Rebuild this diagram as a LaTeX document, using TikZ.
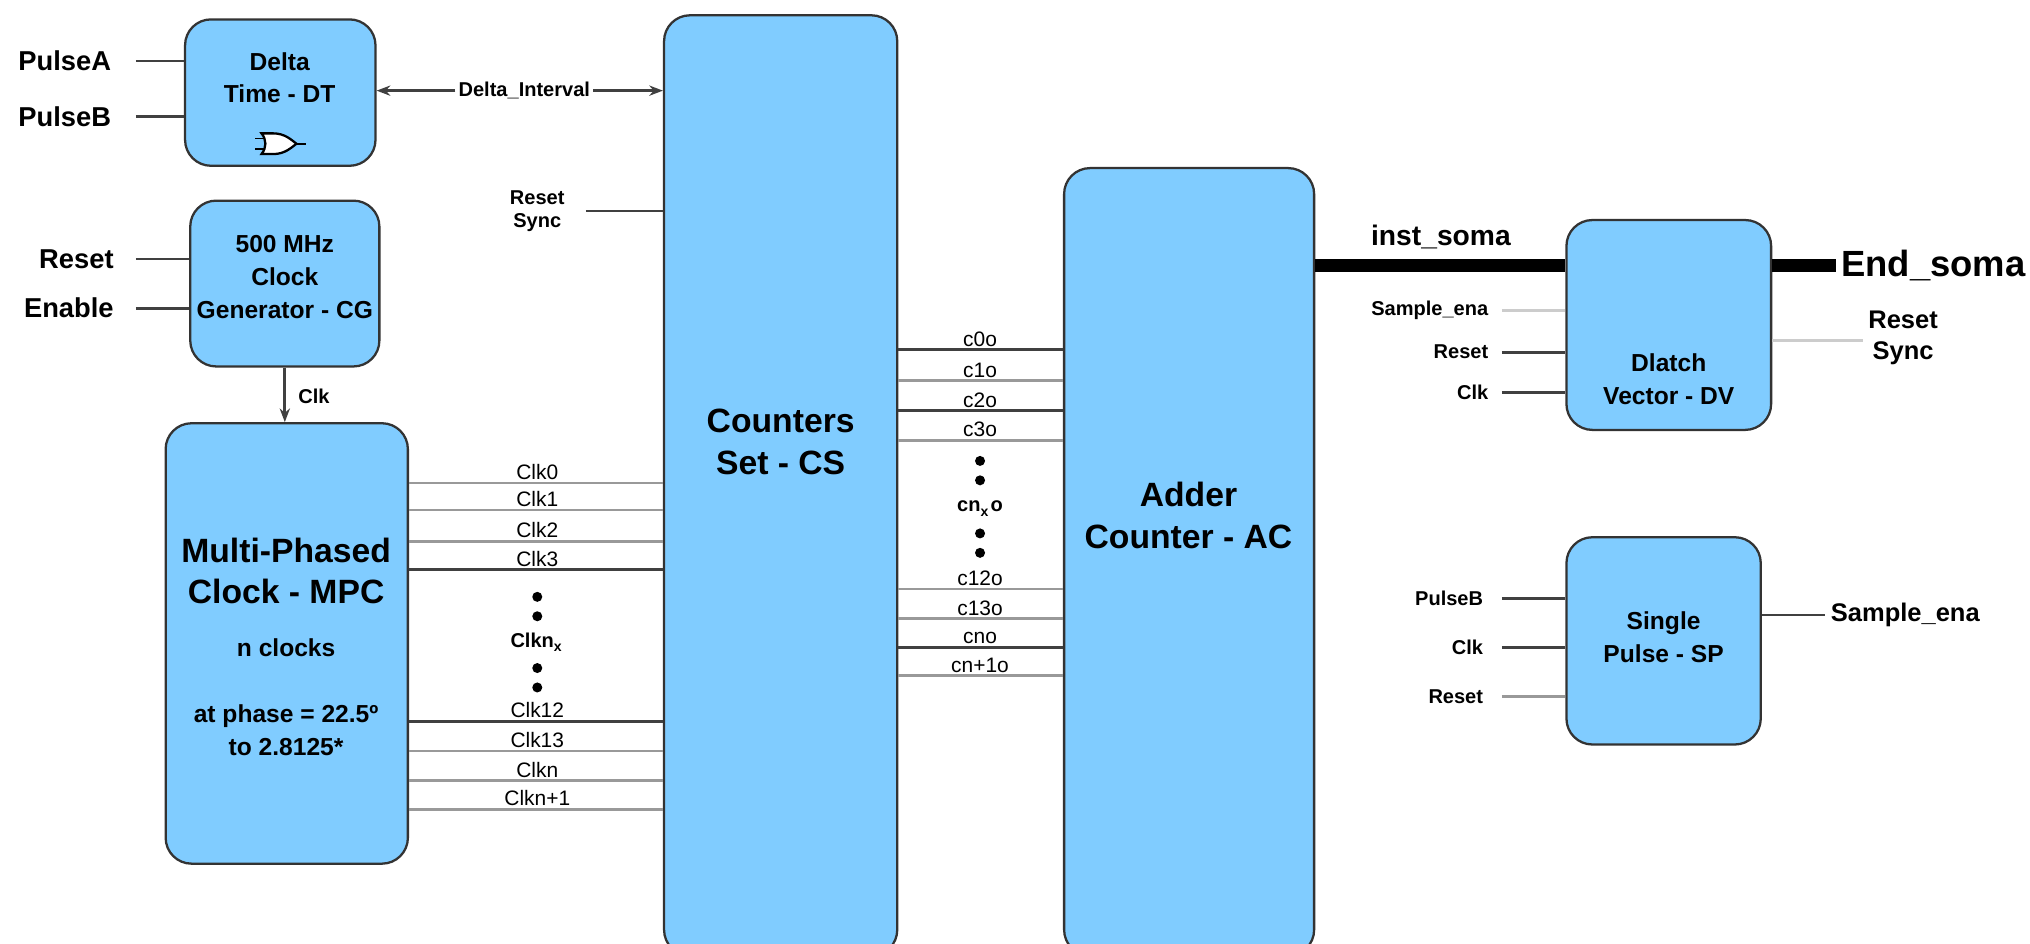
\documentclass[tikz,border=0pt]{standalone}
\usepackage{fontspec}
\setmainfont{Liberation Sans}
\usetikzlibrary{arrows.meta}
\begin{document}
\begin{tikzpicture}[x=0.01cm,y=-0.01cm,
 box/.style={draw=black!80,line width=0.5pt,fill=boxblue,rounded corners=0.2cm,inner sep=0pt},
 tb/.style={font=\bfseries\fontsize{7.4}{9.2}\selectfont,align=center},
 ts/.style={font=\bfseries\fontsize{5.4}{7.2}\selectfont,align=center},
 lab/.style={font=\bfseries\fontsize{6}{7}\selectfont,inner sep=1pt},
 sl/.style={font=\fontsize{4.6}{5.5}\selectfont,inner sep=0.5pt},
 sb/.style={font=\bfseries\fontsize{4.4}{5.2}\selectfont,inner sep=0.5pt},
 wire/.style={line width=0.6pt,draw=black!75},
 gw/.style={line width=0.6pt,draw=black!40},
 lw/.style={line width=0.6pt,draw=black!20},
 dotn/.style={circle,fill=black,inner sep=0pt,minimum size=2.2pt}]
\definecolor{boxblue}{HTML}{80CCFF}
\useasboundingbox (0,0) rectangle (1568,729);
% boxes
\node[box,minimum width=1.47cm,minimum height=1.13cm] (DT) at (216.5,71.5) {};
\node[box,minimum width=1.46cm,minimum height=1.28cm] (CG) at (220,219) {};
\node[box,minimum width=1.87cm,minimum height=3.40cm] (MPC) at (221.5,497) {};
\node[box,minimum width=1.80cm,minimum height=7.26cm] (CS) at (603,375) {};
\node[box,minimum width=1.93cm,minimum height=6.08cm] (AC) at (918.5,434) {};
\node[box,minimum width=1.58cm,minimum height=1.62cm] (DV) at (1289,251) {};
\node[box,minimum width=1.50cm,minimum height=1.60cm] (SP) at (1285,495) {};
% box titles
\node[ts] (tdt) at (216,60) {Delta\\Time - DT};
\draw[line width=0.5pt,fill=white] (202,103) -- (211,103) .. controls (220,103) and (225,108) .. (229,111) .. controls (225,114) and (220,119) .. (211,119) -- (202,119) .. controls (206,114) and (206,108) .. (202,103) -- cycle;
\draw[line width=0.4pt] (229,111) -- (236,111) (197,107) -- (205,107) (197,115) -- (205,115);
\node[ts] (tcg) at (220,214) {500 MHz\\Clock\\Generator - CG};
\node[tb] (tmpc) at (221,441) {Multi-Phased\\Clock - MPC};
\node[ts] (tn) at (221,500) {n clocks};
\node[ts] (tph) at (221,564) {at phase = 22.5º\\to 2.8125*};
\node[tb] (tcs) at (603,341) {Counters\\Set - CS};
\node[tb] (tac) at (918,398) {Adder\\Counter - AC};
\node[ts] (tdv) at (1289,293) {Dlatch\\Vector - DV};
\node[ts] (tsp) at (1285,492) {Single\\Pulse - SP};
% DT inputs
\node[lab,anchor=east] (pa) at (90,47) {PulseA};
\node[lab,anchor=east] (pb) at (90,90) {PulseB};
\draw[wire] (pa.east) ++(15,0) coordinate (pa1) -- (pa1 -| DT.west);
\draw[wire] (pb.east) ++(15,0) coordinate (pb1) -- (pb1 -| DT.west);
% Delta interval
\node[sb] (di) at (405,70) {Delta\_Interval};
\draw[wire,-{Stealth[length=3pt]}] (di.west) -- (di.west -| DT.east);
\draw[wire,-{Stealth[length=3pt]}] (di.east) -- (di.east -| CS.west);
% Reset Sync CS
\node[sb,align=center] (rs) at (415,163) {Reset\\Sync};
\draw[wire] (rs.east) ++(14,0) coordinate (rs1) -- (rs1 -| CS.west);
% CG inputs
\node[lab,anchor=east] (rst) at (92,200) {Reset};
\node[lab,anchor=east] (en) at (92,238) {Enable};
\draw[wire] (rst.east) ++(13,0) coordinate (r1) -- (r1 -| CG.west);
\draw[wire] (en.east) ++(13,0) coordinate (e1) -- (e1 -| CG.west);
% Clk
\draw[wire,-{Stealth[length=3pt]}] (CG.south) -- (CG.south |- MPC.north);
\node[sb,anchor=west] (clk) at (228,306) {Clk};
% MPC -> CS
\foreach \y/\t/\s in {373/Clk0/gw,394/Clk1/gw,418/Clk2/gw,440/Clk3/wire,557/Clk12/wire,580/Clk13/gw,603/Clkn/gw,625/Clkn+1/gw}{
  \coordinate (m\y) at (MPC.east |- 0,\y);
  \draw[\s] (m\y) -- (m\y -| CS.west);
  \node[sl,anchor=south] (lm\y) at (415,\y) {\t};
}
\node[dotn] (d1) at (415,461) {};
\node[dotn] (d2) at (415,476) {};
\node[sb] (cx) at (415,496) {Clkn$_{\mathbf{x}}$};
\node[dotn] (d3) at (415,516) {};
\node[dotn] (d4) at (415,531) {};
% CS -> AC
\foreach \y/\t/\s in {270/c0o/wire,294/c1o/gw,317/c2o/wire,340/c3o/gw,455/c12o/gw,478/c13o/gw,500/cno/wire,522/cn+1o/gw}{
  \coordinate (c\y) at (CS.east |- 0,\y);
  \draw[\s] (c\y) -- (c\y -| AC.west);
  \node[sl,anchor=south] (lc\y) at (757,\y) {\t};
}
\node[dotn] (e1d) at (757,356) {};
\node[dotn] (e2d) at (757,371) {};
\node[sb] (cnx) at (757,393) {cn$_{\mathbf{x}}$o};
\node[dotn] (e3d) at (757,412) {};
\node[dotn] (e4d) at (757,427) {};
% inst_soma, End_soma
\coordinate (is) at (AC.east |- 0,205);
\draw[line width=3pt] (is) -- (is -| DV.west);
\node[lab,font=\bfseries\fontsize{6.2}{7.5}\selectfont] (isl) at (1113,183) {inst\_soma};
\node[lab,font=\bfseries\fontsize{8}{9}\selectfont,anchor=west] (es) at (1418,205) {End\_soma};
\draw[line width=3pt] (DV.east |- es) -- (es.west);
% DV inputs
\node[sb,anchor=east] (se) at (1152,240) {Sample\_ena};
\node[sb,anchor=east] (dr) at (1152,272) {Reset};
\node[sb,anchor=east] (dc) at (1152,303) {Clk};
\draw[lw] (se.east) ++(8,0) coordinate (se1) -- (se1 -| DV.west);
\draw[wire] (dr.east) ++(8,0) coordinate (dr1) -- (dr1 -| DV.west);
\draw[wire] (dc.east) ++(8,0) coordinate (dc1) -- (dc1 -| DV.west);
\node[lab,align=center,font=\bfseries\fontsize{5.6}{7}\selectfont] (drs) at (1470,261) {Reset\\Sync};
\draw[lw] (DV.east |- 0,263) coordinate (dv2) -- (dv2 -| drs.west);
% SP
\node[sb,anchor=east] (spb) at (1148,462) {PulseB};
\node[sb,anchor=east] (spc) at (1148,500) {Clk};
\node[sb,anchor=east] (spr) at (1148,538) {Reset};
\draw[wire] (spb.east) ++(12,0) coordinate (s1) -- (s1 -| SP.west);
\draw[wire] (spc.east) ++(12,0) coordinate (s2) -- (s2 -| SP.west);
\draw[gw] (spr.east) ++(12,0) coordinate (s3) -- (s3 -| SP.west);
\node[lab,anchor=west,font=\bfseries\fontsize{5.6}{7}\selectfont] (spo) at (1410,475) {Sample\_ena};
\draw[wire] (SP.east |- spo) -- (spo.west);
\end{tikzpicture}
\end{document}
